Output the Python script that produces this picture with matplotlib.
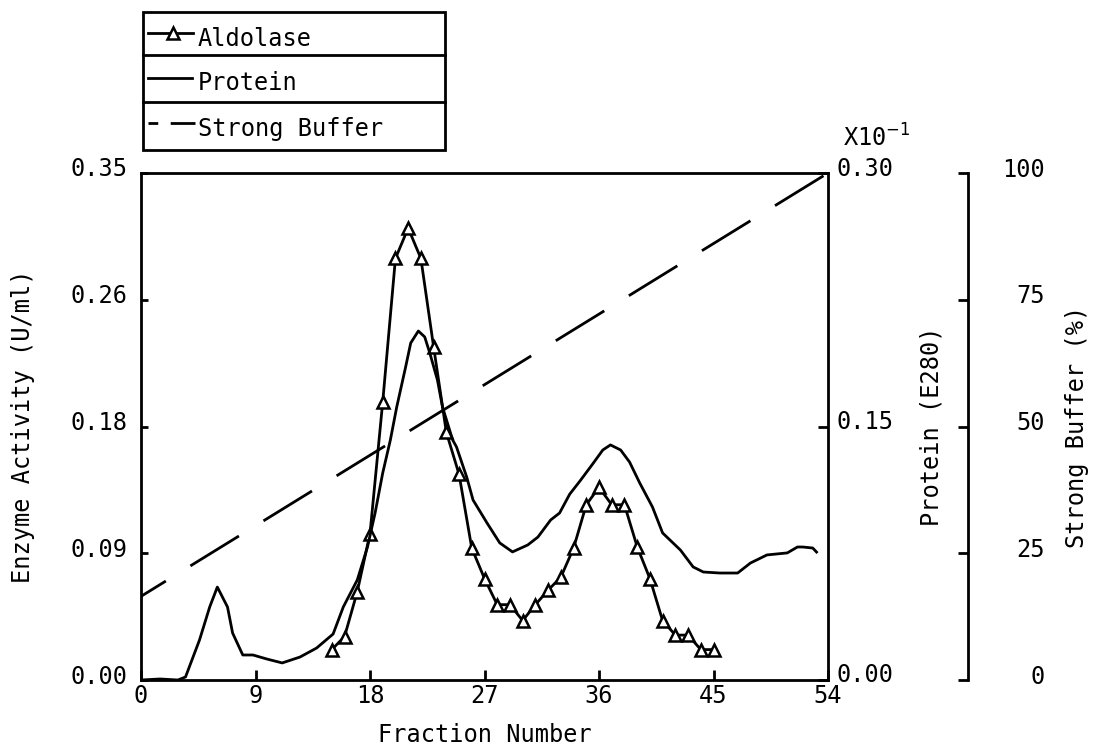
import matplotlib
matplotlib.use("Agg")
import matplotlib.pyplot as plt
import matplotlib.transforms as mtransforms
from matplotlib.lines import Line2D
from matplotlib.patches import Rectangle

plt.rcParams['font.family'] = ['DejaVu Sans Mono', 'DejaVu Sans']
plt.rcParams['font.size'] = 17

# aldolase activity, one reading per fraction (U/ml)
aldolase_fraction = list(range(15, 46))
aldolase_activity = [0.021, 0.030, 0.061, 0.101, 0.192, 0.291, 0.312, 0.291, 0.230, 0.171,
                     0.142, 0.091, 0.070, 0.052, 0.052, 0.041, 0.052, 0.062, 0.071, 0.091,
                     0.121, 0.133, 0.121, 0.121, 0.092, 0.070, 0.041, 0.031, 0.031, 0.021,
                     0.021]

# protein trace (E280, x10^-1)
protein_fraction = [0.0, 1.5, 2.9, 3.5, 4.6, 5.4, 6.0, 6.8, 7.2, 8.0,
                    8.8, 9.9, 11.1, 12.5, 13.8, 15.1, 15.9, 17.0, 17.8, 18.4,
                    19.0, 19.6, 20.1, 20.8, 21.2, 21.8, 22.3, 22.7, 23.3, 23.7,
                    24.5, 24.8, 25.6, 26.1, 27.2, 28.2, 29.2, 30.4, 31.2, 32.2,
                    32.9, 33.7, 34.5, 35.5, 36.3, 36.9, 37.7, 38.4, 39.2, 40.2,
                    41.0, 42.4, 43.4, 44.2, 45.5, 46.9, 47.9, 49.2, 50.8, 51.6,
                    52.0, 52.8, 53.1]
protein_e280 = [0.000, 0.0006, 0.000, 0.0018, 0.0237, 0.0432, 0.0550, 0.0432, 0.0278, 0.0148,
                0.0148, 0.0124, 0.0101, 0.0136, 0.0189, 0.0272, 0.0432, 0.0592, 0.0787, 0.0988,
                0.1225, 0.1420, 0.1615, 0.1852, 0.1994, 0.2065, 0.2030, 0.1935, 0.1775, 0.1615,
                0.1420, 0.1379, 0.1201, 0.1065, 0.0929, 0.0811, 0.0758, 0.0799, 0.0846, 0.0947,
                0.0988, 0.1100, 0.1177, 0.1278, 0.1361, 0.1391, 0.1361, 0.1290, 0.1166, 0.1024,
                0.0870, 0.0769, 0.0669, 0.0639, 0.0633, 0.0633, 0.0692, 0.0740, 0.0752, 0.0787,
                0.0787, 0.0781, 0.0757]

# linear gradient of strong buffer
buffer_fraction = [0, 54]
buffer_percent = [16.5, 100]

x_ticks = [0, 9, 18, 27, 36, 45, 54]
enzyme_ticks = [0, 0.0875, 0.175, 0.2625, 0.35]
enzyme_labels = ['0.00', '0.09', '0.18', '0.26', '0.35']
protein_ticks = [0, 0.15, 0.30]
protein_labels = ['0.00', '0.15', '0.30']
buffer_ticks = [0, 25, 50, 75, 100]
buffer_labels = ['0', '25', '50', '75', '100']

W, H = 1097, 756
LW = 2.0

fig = plt.figure(figsize=(W / 100, H / 100), dpi=100)
ax = fig.add_axes([141 / W, 1 - 680 / H, 687 / W, 507 / H])
ax2 = ax.twinx()
ax3 = ax.twinx()

# main axis: enzyme activity
ax.plot(aldolase_fraction, aldolase_activity, color='black', lw=LW, marker='^',
        markersize=9, markerfacecolor='white', markeredgewidth=1.8, clip_on=False)
ax.set_xlim(0, 54)
ax.set_ylim(0, 0.35)
ax.set_xticks(x_ticks)
ax.set_yticks(enzyme_ticks)
ax.set_yticklabels(enzyme_labels)
ax.spines['right'].set_visible(False)
for s in ['left', 'top', 'bottom']:
    ax.spines[s].set_linewidth(LW)
ax.tick_params(axis='x', direction='in', length=7, width=LW, pad=3)
ax.tick_params(axis='y', direction='in', length=5, width=LW, pad=10)
ax.set_xlabel('Fraction Number', va='center')
ax.xaxis.set_label_coords(0.5, -0.108)
ax.set_ylabel('Enzyme Activity (U/ml)', va='center')
ax.yaxis.set_label_coords(-0.172, 0.5)

# protein axis
ax2.plot(protein_fraction, protein_e280, color='black', lw=LW, solid_joinstyle='round')
ax2.set_ylim(0, 0.30)
ax2.set_yticks(protein_ticks)
ax2.set_yticklabels(protein_labels)
for s in ['left', 'top', 'bottom']:
    ax2.spines[s].set_visible(False)
ax2.spines['right'].set_linewidth(LW)
ax2.tick_params(axis='y', direction='in', length=7, width=LW, pad=6)
ax2.set_ylabel('Protein (E280)', va='center')
ax2.yaxis.set_label_coords((932 - 141) / 687, 0.5)

# buffer axis
ax3.plot(buffer_fraction, buffer_percent, color='black', lw=LW,
         linestyle=(10, (20.5, 10.4)), dash_capstyle='butt')
ax3.set_ylim(0, 100)
ax3.set_yticks(buffer_ticks)
ax3.set_yticklabels(buffer_labels)
for s in ['left', 'top', 'bottom']:
    ax3.spines[s].set_visible(False)
ax3.spines['right'].set_position(('outward', 100.8))
ax3.spines['right'].set_linewidth(LW)
ax3.tick_params(axis='y', direction='in', length=7, width=LW, pad=55)
for lab in ax3.get_yticklabels():
    lab.set_horizontalalignment('right')
ax3.set_ylabel('Strong Buffer (%)', va='center')
ax3.yaxis.set_label_coords((1077 - 141) / 687, 0.5)

# plotter-style labels sit a bit above their ticks
up6 = mtransforms.ScaledTranslation(0, 6 / 100, fig.dpi_scale_trans)
up7 = mtransforms.ScaledTranslation(0, 7 / 100, fig.dpi_scale_trans)
for lab in ax.get_yticklabels():
    lab.set_transform(lab.get_transform() + up6)
for lab in ax2.get_yticklabels():
    lab.set_transform(lab.get_transform() + up7)
for lab in ax3.get_yticklabels():
    lab.set_transform(lab.get_transform() + up6)

fig.text(843 / W, 1 - 138 / H, r'X10$^{-1}$', ha='left', va='center')

# boxed legend
leg = fig.add_axes([143 / W, 1 - 150 / H, 302 / W, 138 / H])
leg.set_xlim(0, 302)
leg.set_ylim(138, 0)
leg.axis('off')
leg.add_patch(Rectangle((0, 0), 302, 138, fill=False, lw=LW, clip_on=False))
leg.plot([0, 302], [43, 43], color='black', lw=LW, clip_on=False)
leg.plot([0, 302], [90, 90], color='black', lw=LW, clip_on=False)
leg.add_line(Line2D([5, 50], [21, 21], color='black', lw=LW))
leg.add_line(Line2D([30], [21], marker='^', markersize=9, color='black',
                    markerfacecolor='white', markeredgewidth=1.8))
leg.add_line(Line2D([5, 49], [66, 66], color='black', lw=LW))
leg.add_line(Line2D([5, 52], [111, 111], color='black', lw=LW, linestyle=(0, (3.5, 4.5, 12, 0))))
leg.text(55, 27, 'Aldolase', ha='left', va='center')
leg.text(55, 71, 'Protein', ha='left', va='center')
leg.text(55, 117, 'Strong Buffer', ha='left', va='center')

fig.savefig('out.png', dpi=100)
